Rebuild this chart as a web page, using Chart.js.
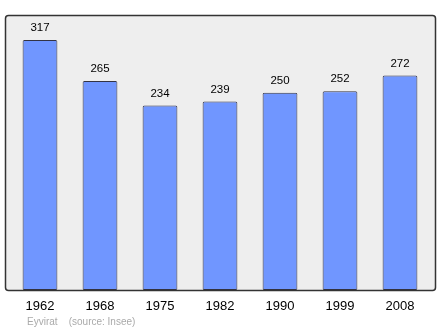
<!DOCTYPE html>
<html><head><meta charset="utf-8">
<script src="https://cdn.jsdelivr.net/npm/chart.js@4"></script>
<style>html,body{margin:0;padding:0;background:#fff;}#wrap{width:440px;height:329px;position:relative;}</style>
</head><body><div id="wrap"><canvas id="c" width="440" height="329"></canvas></div>
<script>
const years = ["1962","1968","1975","1982","1990","1999","2008"];
const population = [317,265,234,239,250,252,272];
const footerText = "Eyvirat    (source: Insee)";

const decor = {
  id:'decor',
  beforeDatasetsDraw(chart){
    const {ctx, chartArea:a} = chart;
    ctx.save();
    const x=a.left-5, y=a.top, w=a.right-a.left+10, h=a.bottom-a.top, r=3;
    ctx.beginPath();
    ctx.roundRect(x+0.5,y+0.5,w,h,r);
    ctx.fillStyle='#eeeeee';
    ctx.fill();
    ctx.restore();
  },
  afterDatasetsDraw(chart){
    const {ctx, chartArea:a, scales} = chart;
    ctx.save();
    const x=a.left-5, y=a.top, w=a.right-a.left+10, h=a.bottom-a.top, r=3;
    ctx.beginPath();
    ctx.roundRect(x+0.5,y+0.5,w,h,r);
    ctx.lineWidth=1.5;
    ctx.strokeStyle='#333333';
    ctx.stroke();
    // value labels
    ctx.fillStyle='#000';
    ctx.font='11.5px "Liberation Sans", Arial, sans-serif';
    ctx.textAlign='center';
    ctx.textBaseline='middle';
    const meta = chart.getDatasetMeta(0);
    meta.data.forEach((bar,i)=>{
      ctx.fillText(String(population[i]), bar.x, bar.y-12);
    });
    // x labels
    ctx.font='13px "Liberation Sans", Arial, sans-serif';
    years.forEach((yr,i)=>{
      ctx.fillText(yr, scales.x.getPixelForValue(i), a.bottom+16);
    });
    // footer
    ctx.font='10px "Liberation Sans", Arial, sans-serif';
    ctx.fillStyle='#aaaaaa';
    ctx.textAlign='left';
    ctx.fillText(footerText, 27, a.bottom+32);
    ctx.restore();
  }
};

new Chart(document.getElementById('c'), {
  type:'bar',
  data:{labels:years, datasets:[{data:population, backgroundColor:'#7096ff', borderColor:'#333344', borderWidth:1, borderRadius:1.5, borderSkipped:false, barPercentage:0.58, categoryPercentage:1}]},
  options:{
    responsive:false, animation:false, devicePixelRatio:1,
    layout:{padding:{left:10,right:10,top:15,bottom:39}},
    plugins:{legend:{display:false}, tooltip:{enabled:false}},
    scales:{
      x:{display:false},
      y:{display:false, min:0, max:Math.max(...population)*1.1}
    }
  },
  plugins:[decor]
});
</script></body></html>
